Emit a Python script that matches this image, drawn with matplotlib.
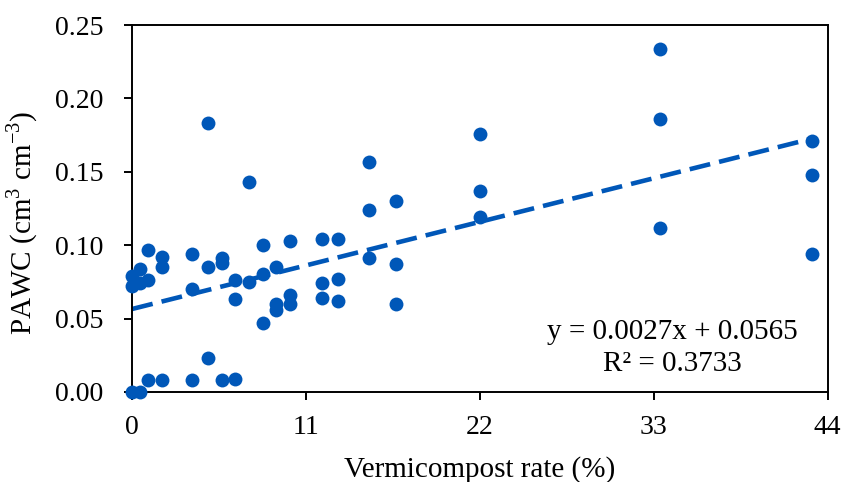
import matplotlib.pyplot as plt
import numpy as np

plt.rcParams['font.family'] = ['Liberation Serif', 'DejaVu Serif']
plt.rcParams['mathtext.fontset'] = 'custom'
plt.rcParams['mathtext.rm'] = 'Liberation Serif'

# Data
rate = [0, 0, 0,
        0.5, 0.5, 0.5,
        1.0, 1.0, 1.0,
        1.9, 1.9, 1.9,
        3.8, 3.8, 3.8,
        4.8, 4.8, 4.8,
        5.7, 5.7, 5.7,
        6.5, 6.5, 6.5,
        7.4, 7.4,
        8.3, 8.3, 8.3,
        9.1, 9.1, 9.1,
        10.0, 10.0, 10.0,
        12.0, 12.0, 12.0,
        13.0, 13.0, 13.0,
        15.0, 15.0, 15.0,
        16.7, 16.7, 16.7,
        22.0, 22.0, 22.0,
        33.4, 33.4, 33.4,
        43.0, 43.0, 43.0]
pawc = [0.079, 0.072, 0.000,
        0.084, 0.074, 0.000,
        0.097, 0.076, 0.008,
        0.092, 0.085, 0.008,
        0.094, 0.070, 0.008,
        0.183, 0.085, 0.023,
        0.091, 0.088, 0.008,
        0.076, 0.063, 0.009,
        0.143, 0.075,
        0.100, 0.080, 0.047,
        0.085, 0.060, 0.056,
        0.103, 0.066, 0.060,
        0.104, 0.074, 0.064,
        0.104, 0.077, 0.062,
        0.157, 0.124, 0.091,
        0.130, 0.087, 0.060,
        0.176, 0.137, 0.119,
        0.234, 0.186, 0.112,
        0.171, 0.148, 0.094]

# Trend line reported in the figure
slope = 0.0027
intercept = 0.0565
r2 = 0.3733

x_ticks = [0, 11, 22, 33, 44]
y_ticks = [0.00, 0.05, 0.10, 0.15, 0.20, 0.25]

color = '#0057B8'

fig = plt.figure(figsize=(8.42, 4.82), dpi=100)
ax = fig.add_axes([0.157, 0.187, 0.826, 0.761])

# Points
ax.scatter(rate, pawc, s=100, color=color, linewidths=0, zorder=3, clip_on=False)

# Linear trend
xs = np.array([min(rate), max(rate)])
ax.plot(xs, slope * xs + intercept, color=color, lw=3.3, linestyle=(0, (4.6, 2.0)),
        dash_capstyle='butt', zorder=2)

ax.text(0.776, 0.12, f'y = {slope}x + {intercept}\nR\u00b2 = {r2}', transform=ax.transAxes,
        ha='center', va='center', fontsize=21, linespacing=1.3)

# Axes
ax.set_xlim(0, 44)
ax.set_ylim(0, 0.25)
ax.set_xticks(x_ticks)
ax.set_yticks(y_ticks)
ax.set_yticklabels([f'{v:.2f}' for v in y_ticks])
ax.tick_params(direction='out', length=6, width=1.4, labelsize=20)
ax.tick_params(axis='x', pad=11)
ax.tick_params(axis='y', pad=15)
for s in ax.spines.values():
    s.set_linewidth(1.4)

ax.set_xlabel('Vermicompost rate (%)', fontsize=21)
ax.set_ylabel('PAWC (cm$^3$ cm$^{\\mathrm{-}3}$)', fontsize=21)
ax.xaxis.set_label_coords(0.5, -0.175)
ax.yaxis.set_label_coords(-0.132, 0.46)

fig.savefig('out.png', dpi=100)
